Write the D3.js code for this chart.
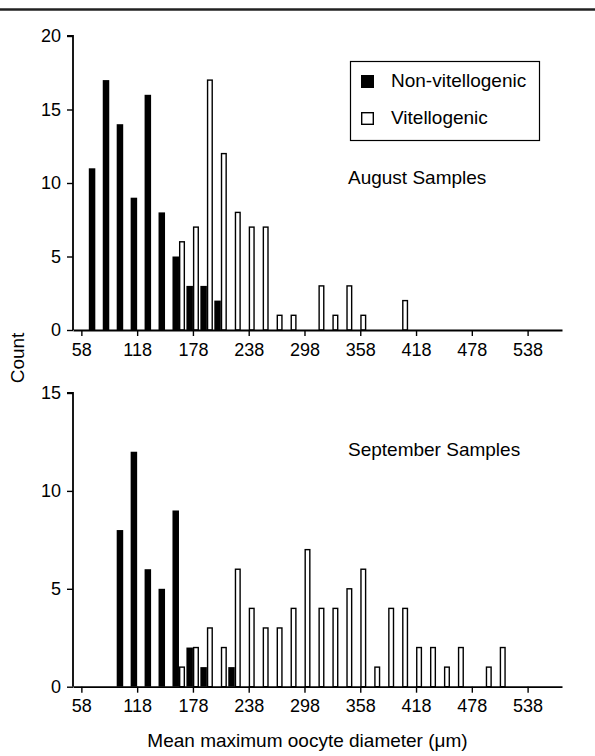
<!DOCTYPE html>
<html>
<head>
<meta charset="utf-8">
<script src="https://cdn.jsdelivr.net/npm/d3@7"></script>
<style>
body { margin: 0; background: #fff; }
svg { display: block; font-family: "Liberation Sans", Arial, Helvetica, sans-serif; }
</style>
</head>
<body>
<script>
// bin centres (µm), 15 µm apart
let augNonVit = [[73, 11], [88, 17], [103, 14], [118, 9], [133, 16], [148, 8], [163, 5], [178, 3], [193, 3], [208, 2]]
let augVit = [[163, 6], [178, 7], [193, 17], [208, 12], [223, 8], [238, 7], [253, 7], [268, 1], [283, 1],
	[313, 3], [328, 1], [343, 3], [358, 1], [403, 2]]
let sepNonVit = [[103, 8], [118, 12], [133, 6], [148, 5], [163, 9], [178, 2], [193, 1], [223, 1]]
let sepVit = [[163, 1], [178, 2], [193, 3], [208, 2], [223, 6], [238, 4], [253, 3], [268, 3], [283, 4],
	[298, 7], [313, 4], [328, 4], [343, 5], [358, 6], [373, 1], [388, 4], [403, 4], [418, 2],
	[433, 2], [448, 1], [463, 2], [493, 1], [508, 2]]
let xTicks = [58, 118, 178, 238, 298, 358, 418, 478, 538]
let augTicks = [0, 5, 10, 15, 20]
let sepTicks = [0, 5, 10, 15]
let legendLabels = ['Non-vitellogenic', 'Vitellogenic']

let width = 595, height = 756
let svg = d3.select('body').append('svg')
	.attr('width', width)
	.attr('height', height)

svg.append('line')
	.attr('x1', 0).attr('x2', width)
	.attr('y1', 9.5).attr('y2', 9.5)
	.attr('stroke', '#222').attr('stroke-width', 2.5)

let x = d3.scaleLinear().domain([49, 575]).range([73, 562])
let barW = 7

function panel(top, bottom, maxY, ticks, nonVit, vit, title, titleY) {
	let y = d3.scaleLinear().domain([0, maxY]).range([bottom, top])
	let g = svg.append('g')

	g.selectAll('rect.nv').data(nonVit).enter().append('rect')
		.attr('class', 'nv')
		.attr('x', d => x(d[0] - barW))
		.attr('width', x(barW) - x(0))
		.attr('y', d => y(d[1]))
		.attr('height', d => y(0) - y(d[1]))
		.attr('fill', '#000')
	g.selectAll('rect.v').data(vit).enter().append('rect')
		.attr('class', 'v')
		.attr('x', d => x(d[0]) + 0.7)
		.attr('width', x(barW - 0.5) - x(0) - 1.4)
		.attr('y', d => y(d[1]))
		.attr('height', d => y(0) - y(d[1]))
		.attr('fill', '#fff')
		.attr('stroke', '#000')
		.attr('stroke-width', 1.4)

	let ya = g.append('g')
		.attr('transform', `translate(${x.range()[0]},0)`)
		.call(d3.axisLeft(y).tickValues(ticks).tickSize(6).tickPadding(6))
	let xa = g.append('g')
		.attr('transform', `translate(0,${bottom})`)
		.call(d3.axisBottom(x).tickValues(xTicks).tickSize(6).tickPadding(7).tickSizeOuter(0))
	ya.select('.domain').attr('d', `M-6,${y(maxY)}H0V${bottom}`)
	g.selectAll('.domain').attr('stroke-width', 1.8)
	g.selectAll('.tick line').attr('stroke-width', 1.4)
	g.selectAll('.tick text').attr('font-size', 18).attr('font-family', null).attr('fill', '#000')

	g.append('text')
		.attr('x', 348).attr('y', titleY)
		.attr('font-size', 19)
		.text(title)
}

panel(36, 330, 20, augTicks, augNonVit, augVit, 'August Samples', 184)
panel(393, 686.7, 15, sepTicks, sepNonVit, sepVit, 'September Samples', 456)

// legend
let lg = svg.append('g')
lg.append('rect')
	.attr('x', 350.5).attr('y', 61.5).attr('width', 189).attr('height', 79)
	.attr('fill', 'none').attr('stroke', '#000').attr('stroke-width', 1.2)
legendLabels.forEach((t, i) => {
	let by = 87 + i * 37
	lg.append('rect')
		.attr('x', i ? 361.7 : 361).attr('y', i ? by - 11.3 : by - 12)
		.attr('width', i ? 11.6 : 13).attr('height', i ? 11.6 : 13)
		.attr('fill', i ? '#fff' : '#000')
		.attr('stroke', '#000').attr('stroke-width', i ? 1.4 : 0)
	lg.append('text')
		.attr('x', 391).attr('y', by)
		.attr('font-size', 19)
		.text(t)
})

svg.append('text')
	.attr('transform', 'translate(24,358) rotate(-90)')
	.attr('text-anchor', 'middle')
	.attr('font-size', 19)
	.text('Count')

svg.append('text')
	.attr('x', 307.5).attr('y', 747)
	.attr('text-anchor', 'middle')
	.attr('font-size', 19)
	.text('Mean maximum oocyte diameter (μm)')
</script>
</body>
</html>
